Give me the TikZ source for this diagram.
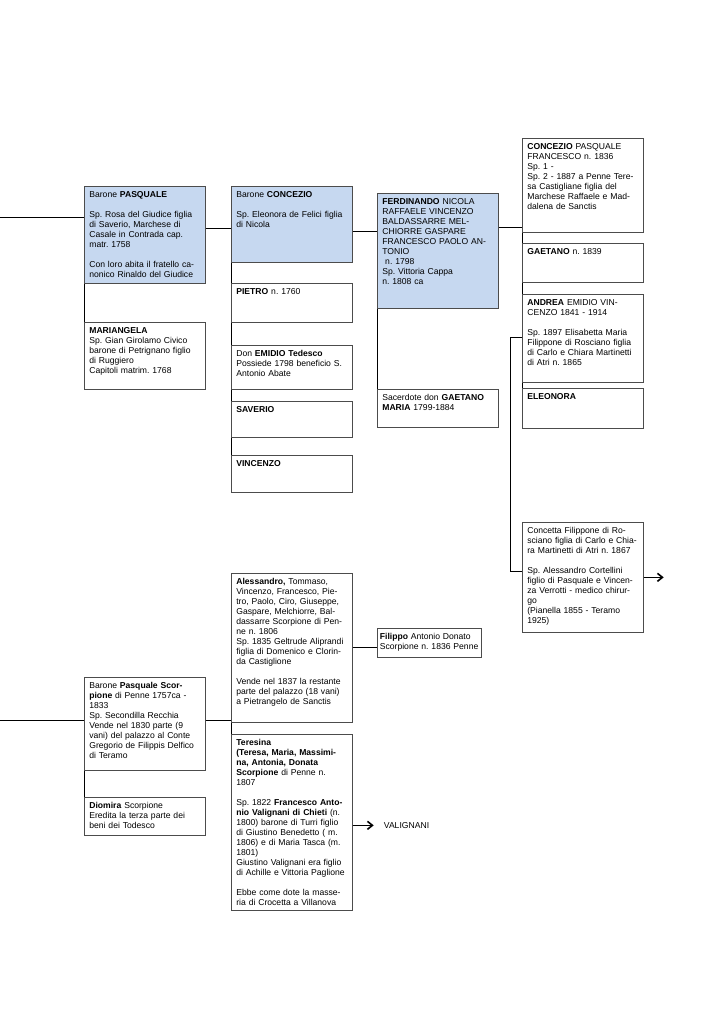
\documentclass[tikz,border=0pt]{standalone}
\usepackage{fontspec}
\setmainfont{Liberation Sans}
\frenchspacing
\usetikzlibrary{arrows.meta, positioning}
\definecolor{boxblue}{RGB}{198,216,240}
\begin{document}
\begin{tikzpicture}[x=1pt,y=-1pt,
      every node/.style={font=\fontsize{8.6}{10}\selectfont},
      person/.style={draw=black!70,line width=0.7pt,anchor=north west,text width=111pt,align=left,
        inner xsep=5pt,inner ysep=4pt,text height=7pt},
      head/.style={person,fill=boxblue},
      link/.style={line width=1pt},
      arr/.style={line width=1.6pt,-{Straight Barb[length=5pt,width=8pt]}}]
      \useasboundingbox (0,0) rectangle (724,1024);
      % first branch
      \node[head,text depth=82pt]   (pasq) at (84,186) {Barone \textbf{PASQUALE}\\[10pt]
        Sp. Rosa del Giudice figlia\\ di Saverio, Marchese di\\ Casale in Contrada cap.\\ matr. 1758\\[10pt]
        Con loro abita il fratello ca-\\ nonico Rinaldo del Giudice};
      \node[person,text depth=52pt] (mariang) at (84,322) {\textbf{MARIANGELA}\\ Sp. Gian Girolamo Civico\\
        barone di Petrignano figlio\\ di Ruggiero\\ Capitoli matrim. 1768};
      \node[head,text depth=61pt]   (conc) at (231,186) {Barone \textbf{CONCEZIO}\\[10pt]
        Sp. Eleonora de Felici figlia\\ di Nicola};
      \node[person,text depth=24pt] (pietro) at (231,283) {\textbf{PIETRO} n. 1760};
      \node[person,text depth=29pt] (emidio) at (231,345) {Don \textbf{EMIDIO Tedesco}\\
        Possiede 1798 beneficio S.\\ Antonio Abate};
      \node[person,text depth=21pt] (saverio) at (231,401) {\textbf{SAVERIO}};
      \node[person,text depth=22pt] (vincenzo) at (231,455) {\textbf{VINCENZO}};
      \node[head,text depth=100pt]  (ferd) at (377,193) {\textbf{FERDINANDO} NICOLA\\ RAFFAELE VINCENZO\\
        BALDASSARRE MEL-\\ CHIORRE GASPARE\\ FRANCESCO PAOLO AN-\\ TONIO\\ \ n. 1798\\
        Sp. Vittoria Cappa\\ n. 1808 ca};
      \node[person,text depth=23pt] (sacerd) at (377,389) {Sacerdote don \textbf{GAETANO}\\ \textbf{MARIA} 1799-1884};
      \node[person,text depth=79pt] (concz) at (522,138) {\textbf{CONCEZIO} PASQUALE\\ FRANCESCO n. 1836\\ Sp. 1 -\\
        Sp. 2 - 1887 a Penne Tere-\\ sa Castigliane figlia del\\ Marchese Raffaele e Mad-\\ dalena de Sanctis};
      \node[person,text depth=24pt] (gaetano) at (522,243) {\textbf{GAETANO} n. 1839};
      \node[person,text depth=73pt] (andrea) at (522,294) {\textbf{ANDREA} EMIDIO VIN-\\ CENZO 1841 - 1914\\[10pt]
        Sp. 1897 Elisabetta Maria\\ Filippone di Rosciano figlia\\ di Carlo e Chiara Martinetti\\ di Atri n. 1865};
      \node[person,text depth=25pt] (eleonora) at (522,388) {\textbf{ELEONORA}};
      \node[person,text depth=95pt] (concetta) at (522,522) {Concetta Filippone di Ro-\\
        sciano figlia di Carlo e Chia-\\ ra Martinetti di Atri n. 1867\\[10pt]
        Sp. Alessandro Cortellini\\ figlio di Pasquale e Vincen-\\ za Verrotti - medico chirur-\\ go\\
        (Pianella 1855 - Teramo\\ 1925)};
      % second branch
      \node[person,text depth=78pt] (scorp) at (84,677) {Barone \textbf{Pasquale Scor-}\\
        \textbf{pione} di Penne 1757ca -\\ 1833\\ Sp. Secondilla Recchia\\ Vende nel 1830 parte (9\\
        vani) del palazzo al Conte\\ Gregorio de Filippis Delfico\\ di Teramo};
      \node[person,text depth=23pt] (diomira) at (84,797) {\textbf{Diomira} Scorpione\\
        Eredita la terza parte dei\\ beni dei Todesco};
      \node[person,text depth=134pt] (aless) at (231,573) {\textbf{Alessandro,} Tommaso,\\
        Vincenzo, Francesco, Pie-\\ tro, Paolo, Ciro, Giuseppe,\\ Gaspare, Melchiorre, Bal-\\
        dassarre Scorpione di Pen-\\ ne n. 1806\\ Sp. 1835 Geltrude Aliprandi\\
        figlia di Domenico e Clorin-\\ da Castiglione\\[10pt]
        Vende nel 1837 la restante\\ parte del palazzo (18 vani)\\ a Pietrangelo de Sanctis};
      \node[person,text depth=14pt,text width=99pt,inner xsep=2.5pt] (filippo) at (377,628) {\textbf{Filippo} Antonio Donato\\
        Scorpione n. 1836 Penne};
      \node[person,text depth=161pt] (teresina) at (231,734) {\textbf{Teresina}\\
        \textbf{(Teresa, Maria, Massimi-}\\ \textbf{na, Antonia, Donata}\\ \textbf{Scorpione} di Penne n.\\ 1807\\[10pt]
        Sp. 1822 \textbf{Francesco Anto-}\\ \textbf{nio Valignani di Chieti} (n.\\ 1800) barone di Turri figlio\\
        di Giustino Benedetto ( m.\\ 1806) e di Maria Tasca (m.\\ 1801)\\ Giustino Valignani era figlio\\
        di Achille e Vittoria Paglione\\[10pt]
        Ebbe come dote la masse-\\ ria di Crocetta a Villanova};
      \node[anchor=west,inner sep=0pt] (vali) at ([xshift=31pt,yshift=-3pt]teresina.east) {VALIGNANI};
      % connectors
      \coordinate (in1) at (0,218);
      \coordinate (in2) at (0,720);
      \coordinate (j1) at ([yshift=-43pt]pasq.north east);
      \coordinate (j2) at ([yshift=-46pt]conc.north east);
      \coordinate (j3) at ([yshift=-35pt]ferd.north east);
      \coordinate (j4) at ([yshift=-43pt]andrea.north west);
      \coordinate (out1) at ([xshift=20pt]concetta.east);
      \draw[link] (in1) -- (in1 -| pasq.west);
      \draw[link] (j1) -- (j1 -| conc.west);
      \draw[link] (j2) -- (j2 -| ferd.west);
      \draw[link] (j3) -- (j3 -| concz.west);
      \draw[link] (pasq.south west) -- (mariang.north west);
      \draw[link] (conc.south west) -- (pietro.north west) (pietro.south west) -- (emidio.north west)
        (emidio.south west) -- (saverio.north west) (saverio.south west) -- (vincenzo.north west);
      \draw[link] (ferd.south west) -- (sacerd.north west);
      \draw[link] (concz.south west) -- (gaetano.north west) (gaetano.south west) -- (andrea.north west)
        (andrea.south west) -- (eleonora.north west);
      \draw[link] (j4) -- ++(-12,0) |- ([yshift=-49pt]concetta.north west);
      \draw[arr] (concetta.east) -- (out1);
      \draw[link] (in2) -- (in2 -| scorp.west);
      \draw[link] (in2 -| scorp.east) -- (in2 -| aless.west);
      \draw[link] (scorp.south west) -- (diomira.north west);
      \draw[link] (aless.south west) -- (teresina.north west);
      \draw[link] (aless.east) -- (aless.east -| filippo.west);
      \draw[arr] ([yshift=-3pt]teresina.east) -- ([xshift=-10pt]vali.west);
\end{tikzpicture}
\end{document}
